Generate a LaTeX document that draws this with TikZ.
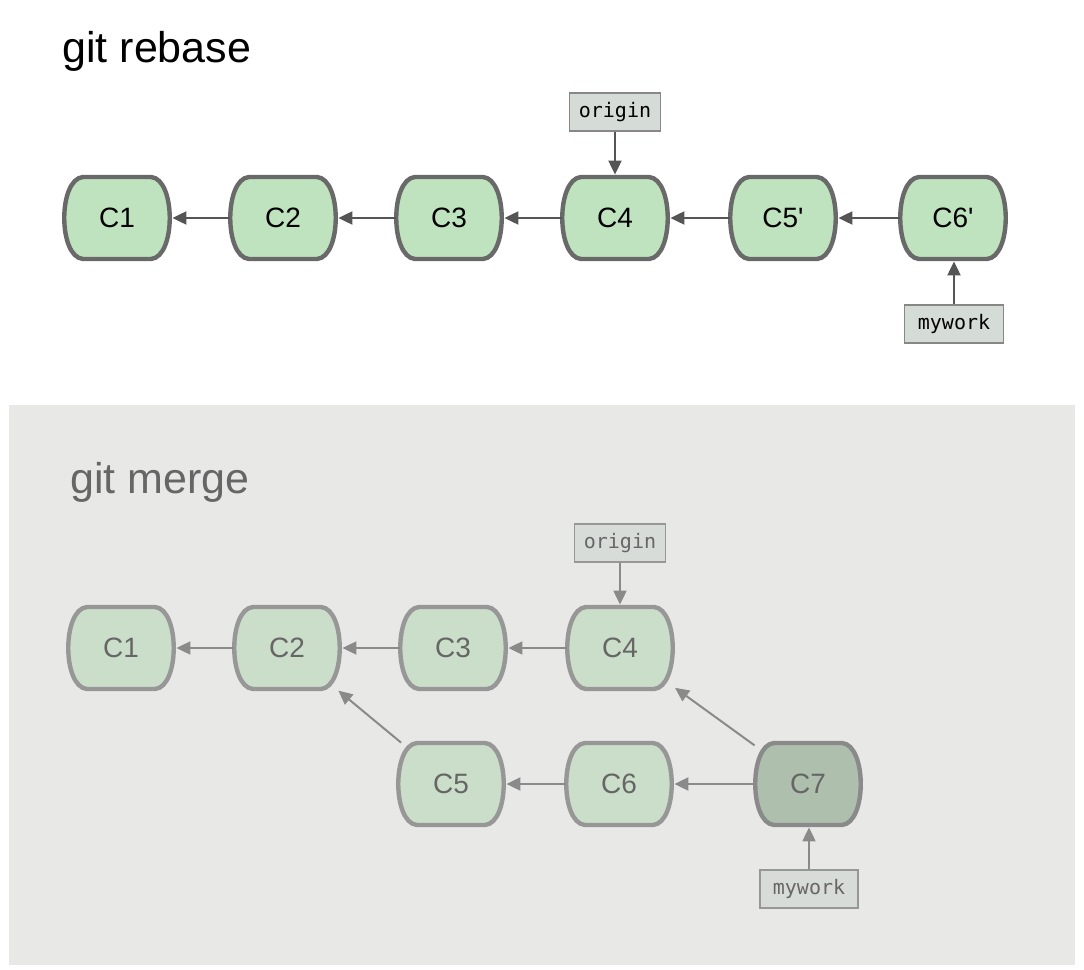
\documentclass[tikz,border=0pt]{standalone}
\usepackage{fontspec}
\setmainfont{Liberation Sans}
\newfontfamily\labelmono{DejaVu Sans Mono}
\usetikzlibrary{arrows.meta}
\definecolor{topfill}{HTML}{BFE3BF}
\definecolor{topline}{HTML}{696969}
\definecolor{toparrow}{HTML}{555555}
\definecolor{botfill}{HTML}{CBDECA}
\definecolor{botline}{HTML}{979797}
\definecolor{botarrow}{HTML}{8A8A8A}
\definecolor{mergefill}{HTML}{AEBFAE}
\definecolor{mergeline}{HTML}{8A8A8A}
\definecolor{panelbg}{HTML}{E8E9E7}
\definecolor{toplabelfill}{HTML}{D5DBD7}
\definecolor{botlabelfill}{HTML}{D7DCD9}
\definecolor{bottext}{HTML}{666666}
\tikzset{
  x=0.5pt, y=-0.5pt,
  cnode/.style={minimum width=53pt, minimum height=41pt, inner sep=0pt, font=\fontsize{14}{16}\selectfont},
  topshape/.style={fill=topfill, draw=topline, line width=2.2pt},
  botshape/.style={fill=botfill, draw=botline, line width=2.2pt},
  mergeshape/.style={fill=mergefill, draw=mergeline, line width=2.2pt},
  toptext/.style={text=black},
  bottxt/.style={text=bottext},
  toparr/.style={draw=toparrow, line width=1pt, -{Triangle[length=7pt,width=6.5pt]}, shorten >=1pt},
  botarr/.style={draw=botarrow, line width=1pt, -{Triangle[length=7pt,width=6.5pt]}, shorten >=1pt},
  toplabel/.style={fill=toplabelfill, draw=topline!80, line width=0.7pt, minimum height=19pt, inner sep=0pt, font=\labelmono\fontsize{10}{12}\selectfont},
  botlabel/.style={fill=botlabelfill, draw=botline, line width=0.7pt, minimum height=19pt, inner sep=0pt, text=bottext, font=\labelmono\fontsize{10}{12}\selectfont},
  titletext/.style={anchor=base west, inner sep=0pt, font=\fontsize{21.5}{26}\selectfont},
}
\newcommand\commitshape[3]{%
  \path[#3] ({#1-34},{#2-41}) -- ({#1+34},{#2-41})
    .. controls ({#1+59},{#2-39}) and ({#1+59},{#2+39}) .. ({#1+34},{#2+41})
    -- ({#1-34},{#2+41})
    .. controls ({#1-59},{#2+39}) and ({#1-59},{#2-39}) .. cycle;}
\newcommand\commit[6]{%
  \commitshape{#2}{#3}{#5}
  \node[cnode, #6] (#1) at (#2,#3) {#4};}
\begin{document}
\begin{tikzpicture}
\useasboundingbox (0,0) rectangle (1084,970);
\fill[white] (0,0) rectangle (1084,970);
% ---------- git rebase ----------
\node[titletext] (t1) at (62,62) {git rebase};
\commit{r1}{117}{218}{C1}{topshape}{toptext}
\commit{r2}{283}{218}{C2}{topshape}{toptext}
\commit{r3}{449}{218}{C3}{topshape}{toptext}
\commit{r4}{615}{218}{C4}{topshape}{toptext}
\commit{r5}{783}{218}{C5\textquotesingle}{topshape}{toptext}
\commit{r6}{953}{218}{C6\textquotesingle}{topshape}{toptext}
\draw[toparr] (r2) -- (r1);
\draw[toparr] (r3) -- (r2);
\draw[toparr] (r4) -- (r3);
\draw[toparr] (r5) -- (r4);
\draw[toparr] (r6) -- (r5);
\node[toplabel, minimum width=45.5pt] (ro) at (615,112) {origin};
\node[toplabel, minimum width=49.5pt] (rm) at (954,324) {mywork};
\draw[toparr] (ro) -- (r4);
\draw[toparr] (rm) -- (rm |- r6.south);
% ---------- git merge ----------
\fill[panelbg] (9,405) rectangle (1075,965);
\node[titletext, text=bottext] (t2) at (70,493) {git merge};
\commit{m1}{121}{648}{C1}{botshape}{bottxt}
\commit{m2}{287}{648}{C2}{botshape}{bottxt}
\commit{m3}{453}{648}{C3}{botshape}{bottxt}
\commit{m4}{620}{648}{C4}{botshape}{bottxt}
\commit{m5}{451}{784}{C5}{botshape}{bottxt}
\commit{m6}{619}{784}{C6}{botshape}{bottxt}
\commit{m7}{808}{784}{C7}{mergeshape}{bottxt}
\draw[botarr] (m2) -- (m1);
\draw[botarr] (m3) -- (m2);
\draw[botarr] (m4) -- (m3);
\draw[botarr] (m5) -- (m2);
\draw[botarr] (m6) -- (m5);
\draw[botarr] (m7) -- (m6);
\draw[botarr] (m7) -- (m4);
\node[botlabel, minimum width=45.5pt] (mo) at (620,543) {origin};
\node[botlabel, minimum width=49pt] (mm) at (809,889) {mywork};
\draw[botarr] (mo) -- (mo |- m4.north);
\draw[botarr] (mm) -- (mm |- m7.south);
\end{tikzpicture}
\end{document}
